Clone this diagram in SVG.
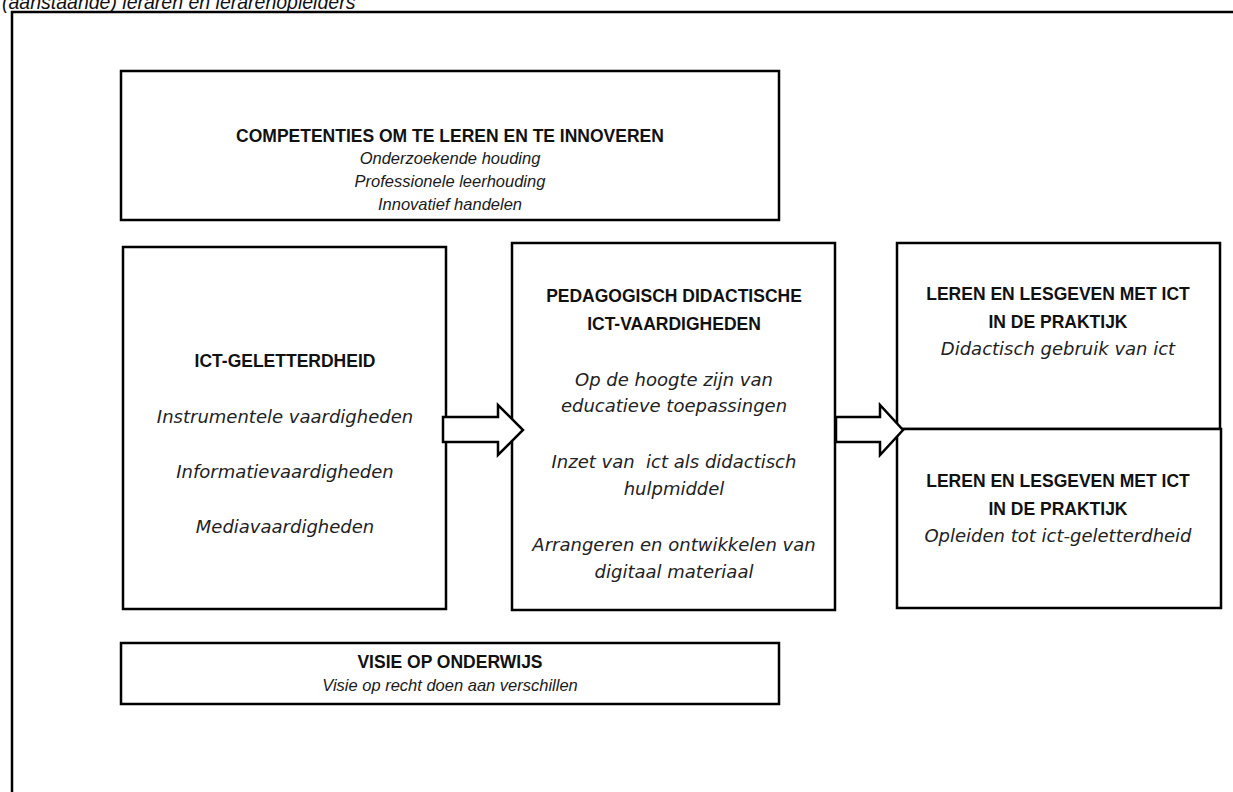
<svg xmlns="http://www.w3.org/2000/svg" width="1233" height="792" viewBox="0 0 1233 792">
<style>
.box{fill:#fff;stroke:#000;stroke-width:2.5}
.frame{fill:none;stroke:#000;stroke-width:2.5}
.h{font-family:"Liberation Sans",Arial,sans-serif;font-weight:bold;font-size:17.5px;fill:#111;text-anchor:middle}
.ci{font-family:"Liberation Sans",Arial,sans-serif;font-style:italic;font-size:16.5px;fill:#1a1a1a;text-anchor:middle}
.vi{font-family:"DejaVu Sans",Verdana,sans-serif;font-style:oblique;font-size:18px;fill:#222;text-anchor:middle;white-space:pre}
.arrow{fill:#fff;stroke:#000;stroke-width:2.5;stroke-linejoin:miter}
</style>
<rect x="0" y="0" width="1233" height="792" fill="#fff"/>
<text x="2" y="9" font-family="Liberation Sans, Arial, sans-serif" font-style="italic" font-size="19.5" fill="#111">(aanstaande) leraren en lerarenopleiders</text>
<path class="frame" d="M12,792 V12 H1233"/>
<g id="competenties">
<rect class="box" x="121" y="71" width="658" height="149"/>
<text class="h" x="450" y="142">COMPETENTIES OM TE LEREN EN TE INNOVEREN</text>
<text class="ci" x="450" y="164">Onderzoekende houding</text>
<text class="ci" x="450" y="187">Professionele leerhouding</text>
<text class="ci" x="450" y="210">Innovatief handelen</text>
</g>
<g id="ict-geletterdheid">
<rect class="box" x="123" y="247" width="323" height="362"/>
<text class="h" x="285" y="367">ICT-GELETTERDHEID</text>
<text class="vi" x="285" y="423">Instrumentele vaardigheden</text>
<text class="vi" x="285" y="478">Informatievaardigheden</text>
<text class="vi" x="285" y="533">Mediavaardigheden</text>
</g>
<g id="pedagogisch">
<rect class="box" x="512" y="243" width="323" height="367"/>
<text class="h" x="674" y="302">PEDAGOGISCH DIDACTISCHE</text>
<text class="h" x="674" y="330">ICT-VAARDIGHEDEN</text>
<text class="vi" x="674" y="386">Op de hoogte zijn van</text>
<text class="vi" x="674" y="412">educatieve toepassingen</text>
<text class="vi" x="674" y="468">Inzet van  ict als didactisch</text>
<text class="vi" x="674" y="495">hulpmiddel</text>
<text class="vi" x="674" y="551">Arrangeren en ontwikkelen van</text>
<text class="vi" x="674" y="578">digitaal materiaal</text>
</g>
<g id="praktijk-1">
<rect class="box" x="897" y="243" width="323" height="186"/>
<text class="h" x="1058" y="300">LEREN EN LESGEVEN MET ICT</text>
<text class="h" x="1058" y="328">IN DE PRAKTIJK</text>
<text class="vi" x="1058" y="355">Didactisch gebruik van ict</text>
</g>
<g id="praktijk-2">
<rect class="box" x="897" y="429" width="324" height="179"/>
<text class="h" x="1058" y="487">LEREN EN LESGEVEN MET ICT</text>
<text class="h" x="1058" y="515">IN DE PRAKTIJK</text>
<text class="vi" x="1058" y="542">Opleiden tot ict-geletterdheid</text>
</g>
<g id="visie">
<rect class="box" x="121" y="643" width="658" height="61"/>
<text class="h" x="450" y="668">VISIE OP ONDERWIJS</text>
<text class="ci" x="450" y="691">Visie op recht doen aan verschillen</text>
</g>
<g id="connectors">
<polygon class="arrow" points="443,417 498,417 498,405 523,430 498,455 498,442 443,442"/>
<polygon class="arrow" points="836,417 880,417 880,405 903,430 880,455 880,442 836,442"/>
</g>
</svg>
